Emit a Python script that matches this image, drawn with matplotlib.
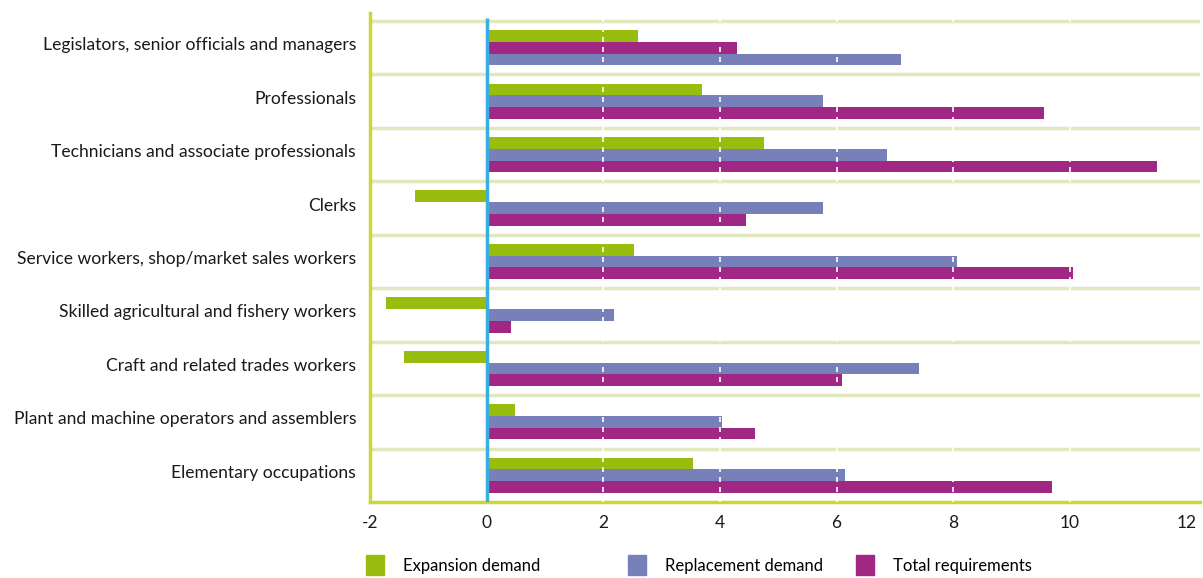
import matplotlib
matplotlib.use("Agg")
import matplotlib.pyplot as plt
from matplotlib.patches import Patch

# Occupation groups, top to bottom
occupations = [
    "Legislators, senior officials and managers",
    "Professionals",
    "Technicians and associate professionals",
    "Clerks",
    "Service workers, shop/market sales workers",
    "Skilled agricultural and fishery workers",
    "Craft and related trades workers",
    "Plant and machine operators and assemblers",
    "Elementary occupations",
]

# Demand by occupation (millions)
expansion = [2.6, 3.7, 4.75, -1.23, 2.52, -1.73, -1.41, 0.48, 3.53]
replacement = [7.1, 5.76, 6.86, 5.76, 8.06, 2.18, 7.42, 4.03, 6.15]
total = [4.3, 9.55, 11.49, 4.44, 10.05, 0.41, 6.1, 4.6, 9.69]

series_names = ["Expansion demand", "Replacement demand", "Total requirements"]
colors = ["#99bd0f", "#7780b8", "#a02884"]
xticks = [-2, 0, 2, 4, 6, 8, 10, 12]

font = ["Lato", "DejaVu Sans"]

fig = plt.figure(figsize=(12.03, 5.78), dpi=100)
ax = fig.add_axes([370 / 1203, 76 / 578, 830 / 1203, 489 / 578])

n = len(occupations)
bar_h = 0.22
ys = list(range(n))

for i in range(n):
    # first group lists total before replacement
    if i == 0:
        offs = [-bar_h, bar_h, 0]
    else:
        offs = [-bar_h, 0, bar_h]
    for vals, off, c in zip([expansion, replacement, total], offs, colors):
        ax.barh(ys[i] + off, vals[i], height=bar_h, color=c, zorder=2)

# row separators
for i in range(n):
    ax.axhline(i - 0.5, color="#dfe9bd", lw=2.5, zorder=1)

# dashed white grid over the bars
for t in xticks[2:-1]:
    ax.axvline(t, color="white", lw=1.2, ls=(0, (3, 3)), zorder=3)

# zero line
ax.plot([0, 0], [n - 0.5, -0.55], color="#3aaee0", lw=2.5, zorder=4,
        solid_capstyle="butt")

ax.set_xlim(-2, 12.23)
ax.set_ylim(n - 0.5, -0.65)

for s in ["top", "right"]:
    ax.spines[s].set_visible(False)
for s in ["left", "bottom"]:
    ax.spines[s].set_color("#c8d83a")
    ax.spines[s].set_linewidth(2.5)

# labels sit a little above the row centre
ax.set_yticks([y - 0.075 for y in ys])
ax.set_yticklabels(occupations, fontsize=12.6, family=font, color="#1a1a1a")
ax.set_xticks(xticks)
ax.set_xticklabels([str(t) for t in xticks], fontsize=12.5, family=font,
                   color="#1a1a1a")
ax.tick_params(axis="both", length=0)
ax.tick_params(axis="y", pad=10)
ax.tick_params(axis="x", pad=9)

# legend entries
legend_x = [366, 628, 856]
for name, c, lx in zip(series_names, colors, legend_x):
    fig.legend(handles=[Patch(color=c, label=name)], loc="center left",
               bbox_to_anchor=(lx / 1203, 1 - 565 / 578), frameon=False,
               handlelength=1.1, handleheight=1.5, handletextpad=1.1,
               borderaxespad=0, borderpad=0,
               prop={"family": font, "size": 12})

fig.savefig("out.png", dpi=100)
